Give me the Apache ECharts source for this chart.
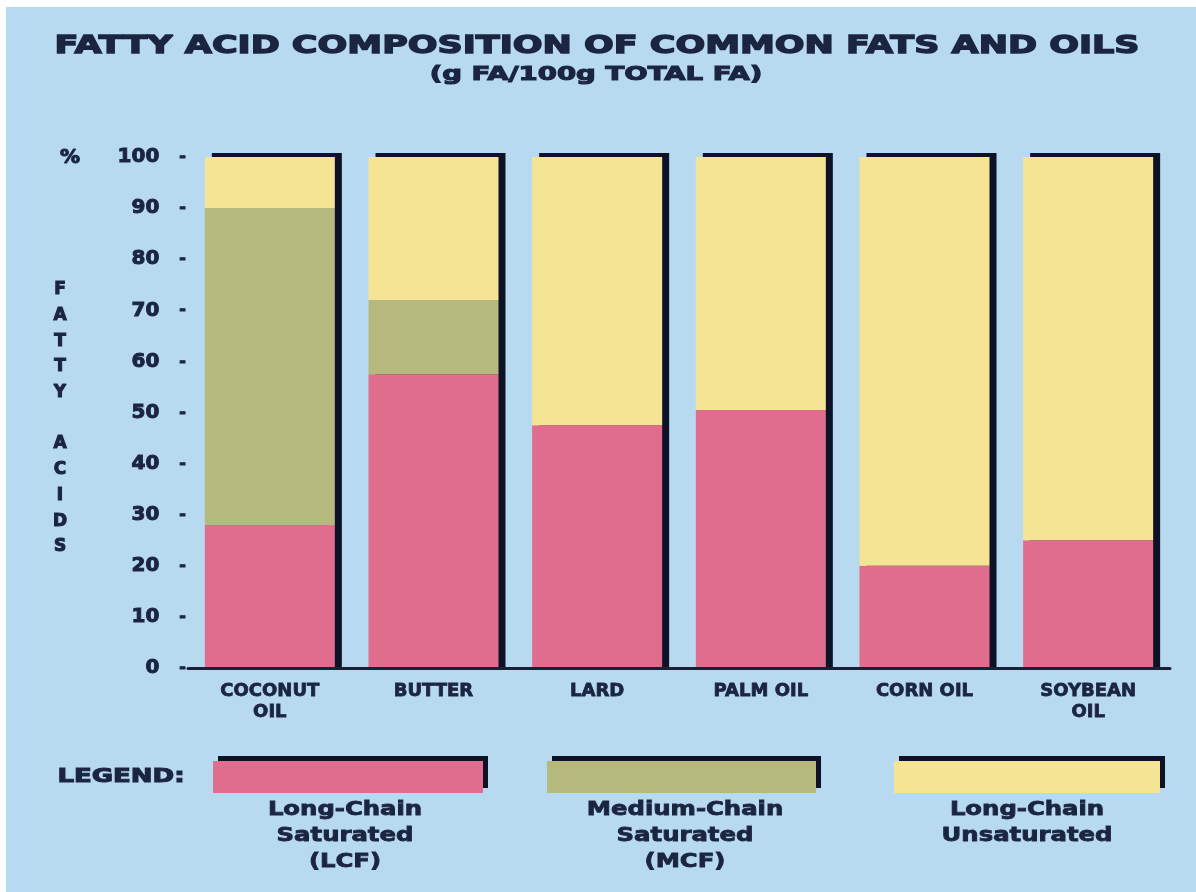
<!DOCTYPE html>
<html>
<head>
<meta charset="utf-8">
<script src="https://cdn.jsdelivr.net/npm/echarts@6/dist/echarts.min.js"></script>
<style>
html,body{margin:0;padding:0;background:#fff;}
#chart{width:1196px;height:892px;}
</style>
</head>
<body>
<div id="chart"></div>
<script>
// ---- data ----
const categories = ['COCONUT\nOIL', 'BUTTER', 'LARD', 'PALM OIL', 'CORN OIL', 'SOYBEAN\nOIL'];
const seriesNames = ['Long-Chain Saturated (LCF)', 'Medium-Chain Saturated (MCF)', 'Long-Chain Unsaturated'];
const lcf = [28, 57.5, 47.5, 50.5, 20, 25];
const mcf = [62, 14.5, 0, 0, 0, 0];
const lcu = [10, 28, 52.5, 49.5, 80, 75];
const yTicks = { min: 0, max: 100, interval: 10 };
const titleText = 'FATTY ACID COMPOSITION OF COMMON FATS AND OILS';
const subtitleText = '(g FA/100g TOTAL FA)';
const legendLabels = ['Long-Chain\nSaturated\n(LCF)', 'Medium-Chain\nSaturated\n(MCF)', 'Long-Chain\nUnsaturated'];

// ---- style ----
const BG = '#b8daf1';
const DARK = '#1b2540';
const SHADOW = '#0d1226';
const COLORS = ['#e06d8d', '#b6b97e', '#f6e495'];
const FONT = 'DejaVu Sans';
const BAR_W = 130;

const totals = lcf.map((v, i) => v + mcf[i] + lcu[i]);

const chart = echarts.init(document.getElementById('chart'));

function barSeries(name, data, color) {
  return {
    name: name,
    type: 'bar',
    stack: 'fa',
    barWidth: BAR_W,
    data: data,
    itemStyle: { color: color },
    emphasis: { disabled: true },
    z: 3
  };
}

function legendBox(name, left, width) {
  return {
    data: [name],
    left: left,
    top: 761,
    padding: 0,
    itemWidth: width,
    itemHeight: 32,
    icon: 'rect',
    selectedMode: false,
    formatter: () => '',
    itemStyle: {
      shadowColor: SHADOW,
      shadowBlur: 0,
      shadowOffsetX: 5,
      shadowOffsetY: -5
    }
  };
}

function txt(extra) {
  return Object.assign({ fill: DARK, fontFamily: FONT, fontWeight: 'bold', stroke: DARK, lineWidth: 1.1 }, extra);
}

const option = {
  backgroundColor: BG,
  animation: false,
  grid: { left: 188, right: 26, top: 157, bottom: 224 },
  xAxis: {
    type: 'category',
    data: categories,
    z: 5,
    axisLine: { lineStyle: { color: '#1a2035', width: 3 } },
    axisTick: { show: false },
    axisLabel: {
      color: DARK,
      fontFamily: FONT,
      fontWeight: 'bold',
      fontSize: 18,
      lineHeight: 21,
      margin: 13,
      interval: 0,
      textBorderColor: DARK,
      textBorderWidth: 0.8
    }
  },
  yAxis: {
    type: 'value',
    min: yTicks.min,
    max: yTicks.max,
    interval: yTicks.interval,
    splitLine: { show: false },
    axisLine: { show: false },
    axisTick: { show: false },
    axisLabel: {
      margin: 2,
      formatter: v => '{v|' + v + '}{d|-}',
      rich: {
        v: { color: DARK, fontFamily: FONT, fontWeight: 'bold', fontSize: 20, textBorderColor: DARK, textBorderWidth: 1 },
        d: { color: DARK, fontFamily: FONT, fontWeight: 'bold', fontSize: 16, padding: [0, 0, 0, 20], textBorderColor: DARK, textBorderWidth: 1 }
      }
    }
  },
  legend: [
    legendBox(seriesNames[0], 213, 270),
    legendBox(seriesNames[1], 547, 269),
    legendBox(seriesNames[2], 894, 266)
  ],
  series: [
    {
      type: 'custom',
      name: 'shadow',
      silent: true,
      z: 2,
      data: totals.map((t, i) => [i, t]),
      renderItem: function (params, api) {
        const top = api.coord([api.value(0), api.value(1)]);
        const base = api.coord([api.value(0), 0]);
        return {
          type: 'rect',
          shape: { x: top[0] - BAR_W / 2 + 7, y: top[1] - 4, width: BAR_W, height: base[1] - top[1] + 4 },
          style: { fill: SHADOW }
        };
      }
    },
    barSeries(seriesNames[0], lcf, COLORS[0]),
    barSeries(seriesNames[1], mcf, COLORS[1]),
    barSeries(seriesNames[2], lcu, COLORS[2])
  ],
  graphic: [
    { type: 'rect', left: 0, top: 0, shape: { width: 1196, height: 7 }, style: { fill: '#ffffff' }, silent: true },
    { type: 'rect', left: 0, top: 0, shape: { width: 6, height: 892 }, style: { fill: '#ffffff' }, silent: true },
    { type: 'text', x: 597, y: 46, scaleX: 1.40, style: txt({ text: titleText, fontSize: 25, textAlign: 'center', textVerticalAlign: 'middle', lineWidth: 1.4 }) },
    { type: 'text', x: 596, y: 75, scaleX: 1.45, style: txt({ text: subtitleText, fontSize: 19, textAlign: 'center', textVerticalAlign: 'middle' }) },
    { type: 'text', x: 70, y: 158, style: txt({ text: '%', fontSize: 20, textAlign: 'center', textVerticalAlign: 'middle' }) },
    { type: 'text', x: 60, y: 277, style: txt({ text: 'F\nA\nT\nT\nY\n\nA\nC\nI\nD\nS', fontSize: 17, lineHeight: 25.7, textAlign: 'center', textVerticalAlign: 'top' }) },
    { type: 'text', x: 121, y: 777, scaleX: 1.3, style: txt({ text: 'LEGEND:', fontSize: 20, textAlign: 'center', textVerticalAlign: 'middle' }) },
    { type: 'text', x: 345, y: 797, scaleX: 1.28, style: txt({ text: legendLabels[0], fontSize: 19, lineHeight: 26, textAlign: 'center', textVerticalAlign: 'top', lineWidth: 0.8 }) },
    { type: 'text', x: 685, y: 797, scaleX: 1.28, style: txt({ text: legendLabels[1], fontSize: 19, lineHeight: 26, textAlign: 'center', textVerticalAlign: 'top', lineWidth: 0.8 }) },
    { type: 'text', x: 1027, y: 797, scaleX: 1.28, style: txt({ text: legendLabels[2], fontSize: 19, lineHeight: 26, textAlign: 'center', textVerticalAlign: 'top', lineWidth: 0.8 }) }
  ]
};

chart.setOption(option);
</script>
</body>
</html>
